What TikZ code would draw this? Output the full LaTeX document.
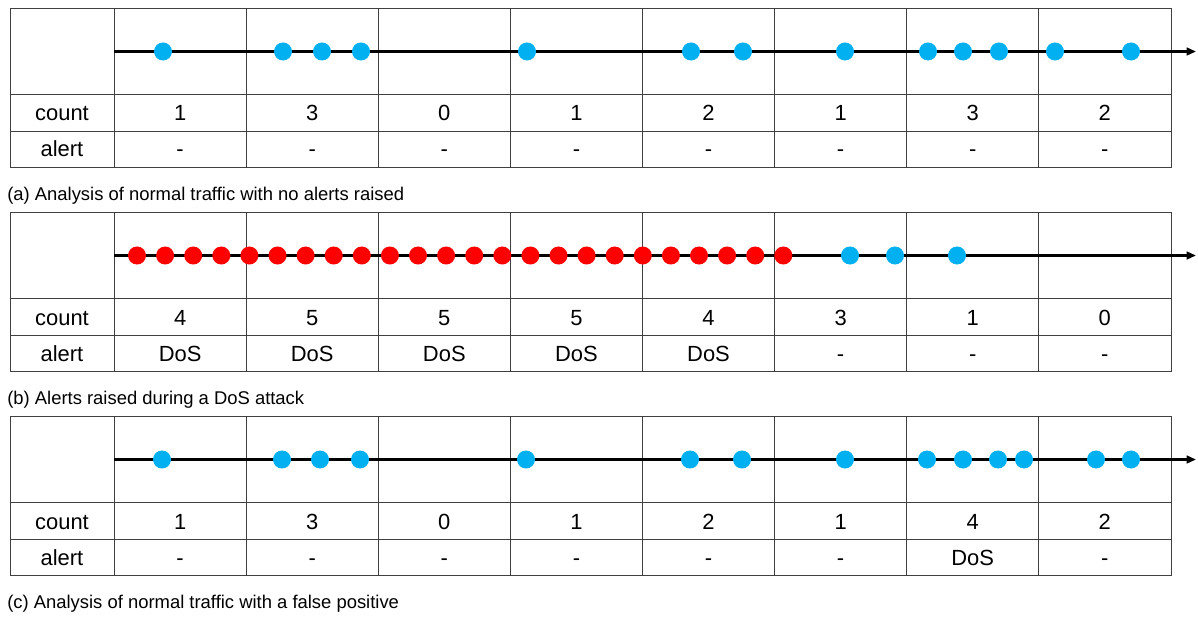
\documentclass[tikz,border=0pt]{standalone}
\usepackage{fontspec}
\setmainfont{Liberation Sans}
\usetikzlibrary{arrows.meta}

\definecolor{pktblue}{HTML}{00B0F0}
\definecolor{pktred}{HTML}{FF0000}

\tikzset{
  cell/.style={font=\fontsize{15.6}{18}\selectfont, inner sep=0pt, anchor=base},
  subcap/.style={font=\fontsize{13.1}{16}\selectfont, anchor=base west, inner sep=0pt},
  gridline/.style={draw=black!75, line width=0.7pt},
  timeline/.style={line width=1.9pt, -{Triangle[length=6.6pt,width=5.4pt]}},
  pkt/.style={circle, fill=#1, inner sep=0pt, minimum size=0.45cm}
}

\begin{document}
\begin{tikzpicture}[x=0.025cm, y=-0.025cm]
  \useasboundingbox (0,0) rectangle (1198,617);

  \foreach \p/\top/\counts/\alerts/\cap in {
      a/8/{1,3,0,1,2,1,3,2}/{-,-,-,-,-,-,-,-}/{(a) Analysis of normal traffic with no alerts raised},
      b/212/{4,5,5,5,4,3,1,0}/{DoS,DoS,DoS,DoS,DoS,-,-,-}/{(b) Alerts raised during a DoS attack},
      c/416/{1,3,0,1,2,1,4,2}/{-,-,-,-,-,-,DoS,-}/{(c) Analysis of normal traffic with a false positive}} {
    % table frame
    \draw[gridline] (10,\top) rectangle (1171,\top+159.5);
    \draw[gridline] (10,\top+86.5) -- (1171,\top+86.5);
    \draw[gridline] (10,\top+123) -- (1171,\top+123);
    \foreach \i in {0,...,7}
      \draw[gridline] (114+132.1*\i,\top) -- (114+132.1*\i,\top+159.5);
    \node[cell] (\p-count) at (62,\top+113) {count};
    \node[cell] (\p-alert) at (62,\top+149) {alert};
    \foreach \n [count=\i] in \counts
      \node[cell] (\p-n\i) at (114+132.1*\i-66,\top+113) {\n};
    \foreach \s [count=\i] in \alerts
      \node[cell] (\p-s\i) at (114+132.1*\i-66,\top+149) {\s};
    \node[subcap] (\p-cap) at (7,\top+192.5) {\cap};
    % time axis
    \coordinate (\p-start) at (114,\top+43.5);
    \coordinate (\p-end) at (1196,\top+43.5);
    \draw[timeline] (\p-start) -- (\p-end);
  }

  \foreach \x [count=\k] in {163,283,322,361,527,691,743,845,928,963,999,1055,1131}
    \node[pkt=pktblue] (a-d\k) at (\x,51.5) {};

  \foreach \k in {0,...,23}
    \node[pkt=pktred] (b-r\k) at (137+28.1*\k,255.5) {};
  \foreach \x [count=\k] in {850,895,957}
    \node[pkt=pktblue] (b-d\k) at (\x,255.5) {};

  \foreach \x [count=\k] in {162,282,320,360,526,690,742,845,927,963,998,1024,1096,1131}
    \node[pkt=pktblue] (c-d\k) at (\x,459.5) {};
\end{tikzpicture}
\end{document}
